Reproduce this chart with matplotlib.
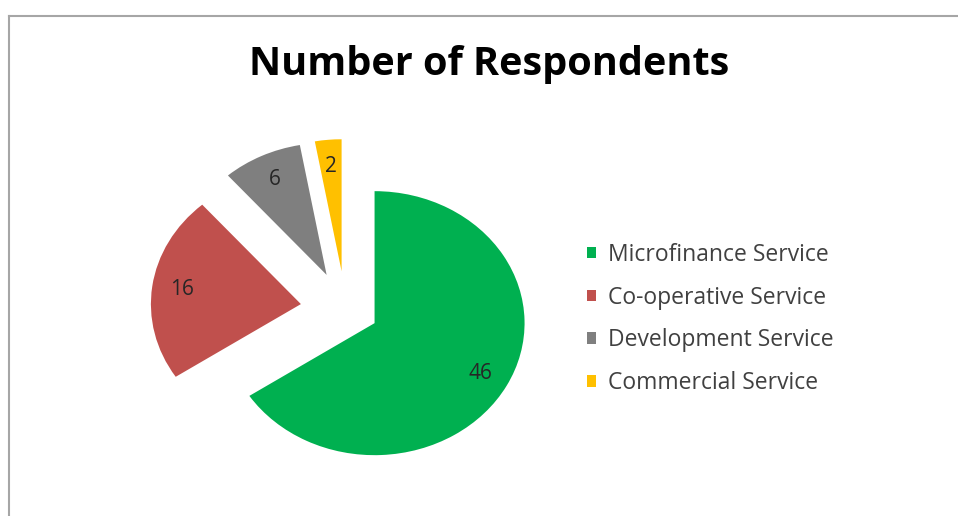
import matplotlib.pyplot as plt
from matplotlib.lines import Line2D

# Respondents by type of service
services = ['Microfinance Service', 'Co-operative Service',
            'Development Service', 'Commercial Service']
respondents = [46, 16, 6, 2]
colors = ['#00B050', '#C0504D', '#7F7F7F', '#FFC000']
explode = [0.22, 0.3, 0.29, 0.29]

plt.rcParams['font.family'] = ['Open Sans', 'DejaVu Sans']

W, H = 958, 516
fig = plt.figure(figsize=(W / 100, H / 100), dpi=100)
ax = fig.add_axes([0, 0, 1, 1])

total = sum(respondents)
wedges, texts, autotexts = ax.pie(
    respondents, explode=explode, colors=colors, startangle=90,
    counterclock=False, autopct=lambda p: f"{round(p * total / 100)}",
    pctdistance=0.8, textprops={'fontsize': 15, 'color': '#262626'})

# slightly wider than tall, like the original sheet export
cx, cy, rx, ry = 345.5, 309.4, 150, 132
ax.set_aspect('auto')
ax.set_xlim(-cx / rx, (W - cx) / rx)
ax.set_ylim((cy - H) / ry, cy / ry)
ax.axis('off')

fig.text(489 / W, 1 - 64 / H, 'Number of Respondents', ha='center',
         va='center', fontsize=28.5, fontweight='bold', color='#000000')

fig.legend(wedges, services, loc='center left',
           bbox_to_anchor=(566 / W, 1 - 319 / H), frameon=False,
           fontsize=16.5, labelcolor='#404040', handlelength=0.4,
           handleheight=0.4, handletextpad=0.55, labelspacing=0.82)

# chart area border (top and left edges visible)
fig.add_artist(Line2D([9 / W, 9 / W], [0, 1 - 15.5 / H],
                      transform=fig.transFigure, color='#a6a6a6', lw=1.5))
fig.add_artist(Line2D([9 / W, 1], [1 - 15.5 / H, 1 - 15.5 / H],
                      transform=fig.transFigure, color='#a6a6a6', lw=1.5))

fig.savefig('out.png', dpi=100)
